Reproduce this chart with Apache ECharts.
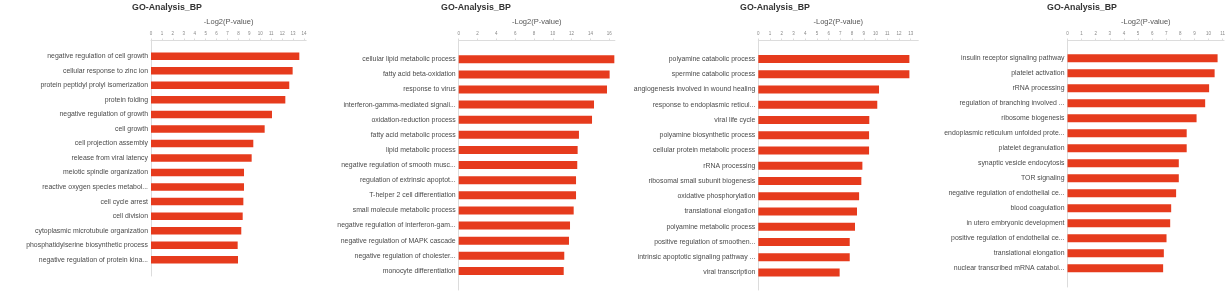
<!DOCTYPE html>
<html>
<head>
<meta charset="utf-8">
<script src="https://cdn.jsdelivr.net/npm/echarts@6/dist/echarts.min.js"></script>
<style>
html,body{margin:0;padding:0;background:#fff;}
#chart{width:1228px;height:292px;}
</style>
</head>
<body>
<div id="chart"></div>
<script>
const title = 'GO-Analysis_BP';
const axisName = '-Log2(P-value)';

const cats1 = ['negative regulation of cell growth','cellular response to zinc ion','protein peptidyl prolyl isomerization','protein folding','negative regulation of growth','cell growth','cell projection assembly','release from viral latency','meiotic spindle organization','reactive oxygen species metabol...','cell cycle arrest','cell division','cytoplasmic microtubule organization','phosphatidylserine biosynthetic process','negative regulation of protein kina...'];
const vals1 = [13.57,12.96,12.65,12.29,11.07,10.4,9.36,9.21,8.51,8.51,8.45,8.39,8.26,7.93,7.96];

const cats2 = ['cellular lipid metabolic process','fatty acid beta-oxidation','response to virus','interferon-gamma-mediated signali...','oxidation-reduction process','fatty acid metabolic process','lipid metabolic process','negative regulation of smooth musc...','regulation of extrinsic apoptot...','T-helper 2 cell differentiation','small molecule metabolic process','negative regulation of interferon-gam...','negative regulation of MAPK cascade','negative regulation of cholester...','monocyte differentiation'];
const vals2 = [16.54,16.04,15.76,14.38,14.17,12.78,12.64,12.6,12.47,12.47,12.22,11.83,11.72,11.22,11.16];

const cats3 = ['polyamine catabolic process','spermine catabolic process','angiogenesis involved in wound healing','response to endoplasmic reticul...','viral life cycle','polyamine biosynthetic process','cellular protein metabolic process','rRNA processing','ribosomal small subunit biogenesis','oxidative phosphorylation','translational elongation','polyamine metabolic process','positive regulation of smoothen...','intrinsic apoptotic signaling pathway ...','viral transcription'];
const vals3 = [12.89,12.89,10.3,10.15,9.47,9.45,9.45,8.88,8.79,8.6,8.42,8.25,7.8,7.8,6.94];

const cats4 = ['insulin receptor signaling pathway','platelet activation','rRNA processing','regulation of branching involved ...','ribosome biogenesis','endoplasmic reticulum unfolded prote...','platelet degranulation','synaptic vesicle endocytosis','TOR signaling','negative regulation of endothelial ce...','blood coagulation','in utero embryonic development','positive regulation of endothelial ce...','translational elongation','nuclear transcribed mRNA catabol...'];
const vals4 = [10.64,10.43,10.04,9.76,9.15,8.45,8.45,7.89,7.89,7.7,7.35,7.28,7.02,6.83,6.78];

const axisMax = [14.2, 16.6, 13.65, 11.1];
const axisInterval = [1, 2, 1, 1];

// layout per panel
const panels = [
  {cats: cats1, vals: vals1, left: 151, width: 155.2, top: 49.0, height: 218, lineBottom: 276, titleX: 167, barW: 7.5},
  {cats: cats2, vals: vals2, left: 458.7, width: 156.2, top: 51.7, height: 226.8, lineBottom: 290, titleX: 476, barW: 8},
  {cats: cats3, vals: vals3, left: 758.3, width: 160, top: 51.4, height: 228.6, lineBottom: 290, titleX: 775, barW: 8},
  {cats: cats4, vals: vals4, left: 1067.5, width: 158, top: 50.8, height: 225, lineBottom: 287, titleX: 1082, barW: 8}
];
const axisLineY = 40.5;
const barColor = '#E63B1D';
const lineColor = '#dcdcdc';
const fontFam = '"Liberation Sans", Arial, sans-serif';

const option = {
  animation: false,
  backgroundColor: '#fff',
  title: [], grid: [], xAxis: [], yAxis: [], series: []
};

panels.forEach((p, i) => {
  option.title.push({
    text: title, left: p.titleX, top: 3, padding: 0, textAlign: 'center',
    textStyle: {fontSize: 8.8, fontWeight: 'bold', color: '#333', fontFamily: fontFam}
  });
  option.grid.push({left: p.left, top: p.top, width: p.width, height: p.height, containLabel: false});
  option.grid.push({left: p.left, top: axisLineY, width: p.width, height: p.lineBottom - axisLineY, containLabel: false});
  const gMain = i * 2, gDec = i * 2 + 1;
  option.xAxis.push({
    gridIndex: gMain, type: 'value', position: 'top', offset: p.top - axisLineY,
    min: 0, max: axisMax[i], interval: axisInterval[i],
    name: axisName, nameLocation: 'middle', nameGap: 15,
    nameTextStyle: {fontSize: 7.5, color: '#555', fontFamily: fontFam},
    axisLine: {show: true, lineStyle: {color: lineColor, width: 1}},
    axisTick: {show: true, length: 2, lineStyle: {color: lineColor}},
    axisLabel: {fontSize: 4.5, color: '#888', margin: 4, showMaxLabel: false, fontFamily: fontFam},
    splitLine: {show: false}
  });
  option.xAxis.push({gridIndex: gDec, type: 'value', min: 0, max: 1, show: false});
  option.yAxis.push({
    gridIndex: gMain, type: 'category', data: p.cats, inverse: true,
    axisLine: {show: false}, axisTick: {show: false}, splitLine: {show: false},
    axisLabel: {fontSize: 6.9, color: '#4a4a4a', margin: 3, fontFamily: fontFam}
  });
  option.yAxis.push({
    gridIndex: gDec, type: 'value', min: 0, max: 1,
    axisLine: {show: true, lineStyle: {color: lineColor, width: 1}},
    axisTick: {show: false}, axisLabel: {show: false}, splitLine: {show: false}
  });
  option.series.push({
    type: 'bar', xAxisIndex: gMain, yAxisIndex: gMain, data: p.vals,
    barWidth: p.barW, itemStyle: {color: barColor}, silent: true
  });
});

const chart = echarts.init(document.getElementById('chart'), null, {renderer: 'canvas'});
chart.setOption(option);
</script>
</body>
</html>
